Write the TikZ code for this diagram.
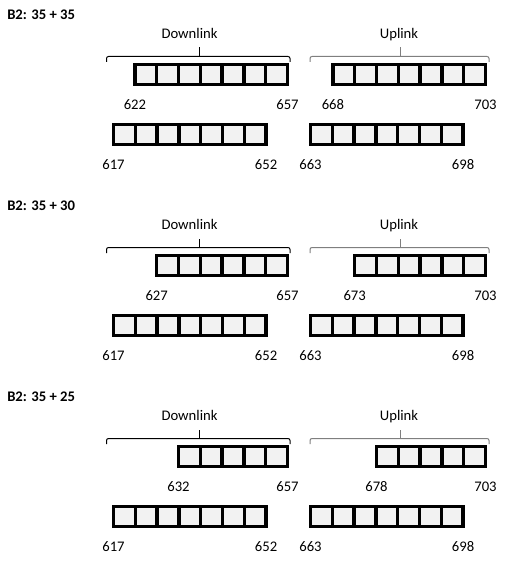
\documentclass[tikz,border=0pt]{standalone}
\usepackage{fontspec}
\setmainfont{Carlito}
\definecolor{cellgray}{HTML}{F2F2F2}
\definecolor{bracegray}{HTML}{7F7F7F}
\begin{document}
\begin{tikzpicture}[x=0.75pt,y=-0.75pt,
  cell/.style={draw=black, line width=2.45pt, fill=cellgray, minimum width=16.35pt, minimum height=15pt, inner sep=0pt, outer sep=0pt},
  txt/.style={font=\fontsize{11pt}{13pt}\selectfont, inner sep=0pt, text height=6.9pt, text depth=0pt},
  ttl/.style={txt, font=\fontsize{11pt}{13pt}\selectfont\bfseries, anchor=west},
  brc/.style={line width=0.75pt, rounded corners=1.5pt}]
\useasboundingbox (0,0) rectangle (517,573);
\foreach \k/\n/\t/\dl/\ul in {0/7/35/622/668, 1/6/30/627/673, 2/5/25/632/678}{
  \pgfmathsetmacro\oy{191*\k}
  % title
  \node[ttl] (title\k) at (7,\oy+14.5) {B2: 35 + \t};
  % group labels
  \node[txt] (dlab\k) at (189.5,\oy+33.5) {Downlink};
  \node[txt] (ulab\k) at (399,\oy+33.5) {Uplink};
  % braces
  \coordinate (dbl\k) at (106.5,\oy+62);
  \coordinate (dbr\k) at (290,\oy+62);
  \coordinate (dbt\k) at (199,\oy+47.5);
  \draw[brc] (dbl\k) -- (106.5,\oy+56.5) -- (290,\oy+56.5) -- (dbr\k);
  \draw[line width=0.75pt] (199,\oy+56.5) -- (dbt\k);
  \coordinate (ubl\k) at (310,\oy+62);
  \coordinate (ubr\k) at (489,\oy+62);
  \coordinate (ubt\k) at (400,\oy+47.5);
  \draw[brc, draw=bracegray] (ubl\k) -- (310,\oy+56.5) -- (489,\oy+56.5) -- (ubr\k);
  \draw[line width=0.75pt, draw=bracegray] (400,\oy+56.5) -- (ubt\k);
  % top bars (right aligned)
  \foreach \i in {1,...,\n}{
    \node[cell] (dt\k-\i) at ({287.5-(\n-\i+0.5)*21.8},\oy+74.5) {};
    \node[cell] (ut\k-\i) at ({485.5-(\n-\i+0.5)*21.8},\oy+74.5) {};
  }
  % bottom bars (7 cells, left aligned)
  \foreach \i in {1,...,7}{
    \node[cell] (db\k-\i) at ({113.5+(\i-0.5)*21.8},\oy+134.3) {};
    \node[cell] (ub\k-\i) at ({310.5+(\i-0.5)*21.8},\oy+134.3) {};
  }
  % numbers
  \node[txt] (ndtl\k) at (dt\k-1.west |- 0,\oy+104.8) {\dl};
  \node[txt] (ndtr\k) at (dt\k-\n.east |- 0,\oy+104.8) {657};
  \node[txt] (nutl\k) at (ut\k-1.west |- 0,\oy+104.8) {\ul};
  \node[txt] (nutr\k) at (ut\k-\n.east |- 0,\oy+104.8) {703};
  \node[txt] (ndbl\k) at (db\k-1.west |- 0,\oy+164.5) {617};
  \node[txt] (ndbr\k) at (db\k-7.east |- 0,\oy+164.5) {652};
  \node[txt] (nubl\k) at (ub\k-1.west |- 0,\oy+164.5) {663};
  \node[txt] (nubr\k) at (ub\k-7.east |- 0,\oy+164.5) {698};
}
\end{tikzpicture}
\end{document}
